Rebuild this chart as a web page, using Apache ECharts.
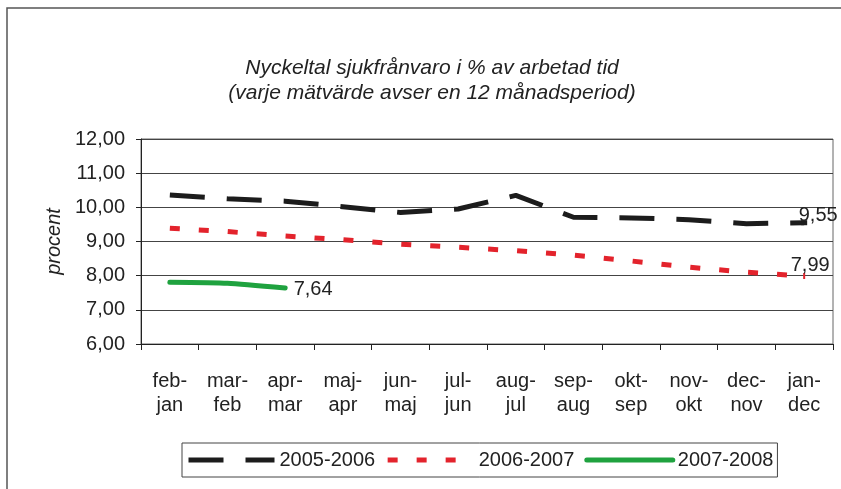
<!DOCTYPE html>
<html>
<head>
<meta charset="utf-8">
<script src="https://cdn.jsdelivr.net/npm/echarts@6/dist/echarts.min.js"></script>
<style>
  html, body { margin: 0; padding: 0; background: #fff; }
  #chart { width: 841px; height: 489px; }
</style>
</head>
<body>
<div id="chart"></div>
<script>
// periods (12-month rolling)
const categories = [
  "feb-\njan", "mar-\nfeb", "apr-\nmar", "maj-\napr", "jun-\nmaj", "jul-\njun",
  "aug-\njul", "sep-\naug", "okt-\nsep", "nov-\nokt", "dec-\nnov", "jan-\ndec"
];
const seriesNames = ["2005-2006", "2006-2007", "2007-2008"];
const values0506 = [10.36, 10.25, 10.18, 10.02, 9.85, 9.95, 10.35, 9.71, 9.69, 9.64, 9.52, 9.55];
const values0607 = [9.39, 9.29, 9.16, 9.05, 8.92, 8.83, 8.73, 8.60, 8.43, 8.25, 8.10, 7.99];
const values0708 = [7.81, 7.78, 7.64];
const yTicks = [6, 7, 8, 9, 10, 11, 12];

const comma = (v) => v.toFixed(2).replace(".", ",");
const font = "Liberation Sans, Arial, sans-serif";

// only the last point of each series gets a marker + value label
function withLastLabel(arr, marker, label) {
  return arr.map((v, i) =>
    i === arr.length - 1
      ? Object.assign({ value: v, label: Object.assign({ show: true }, label) }, marker)
      : v
  );
}

const chart = echarts.init(document.getElementById("chart"));
chart.setOption({
  animation: false,
  backgroundColor: "#fff",
  textStyle: { fontFamily: font },
  graphic: [
    {
      type: "rect",
      shape: { x: 7, y: 8, width: 900, height: 600 },
      style: { fill: "none", stroke: "#555", lineWidth: 1.5 },
      silent: true
    }
  ],
  title: {
    text: "Nyckeltal sjukfrånvaro i % av arbetad tid\n(varje mätvärde avser en 12 månadsperiod)",
    left: 427,
    top: 51,
    textAlign: "center",
    textStyle: {
      fontFamily: font,
      fontSize: 21,
      fontStyle: "italic",
      fontWeight: "normal",
      color: "#222",
      lineHeight: 25
    }
  },
  legend: {
    data: seriesNames,
    left: 182,
    top: 443,
    padding: [5, 4],
    itemWidth: 86,
    itemHeight: 10,
    itemGap: 10,
    borderColor: "#444",
    borderWidth: 1,
    itemStyle: { opacity: 0 },
    lineStyle: { width: 5 },
    textStyle: { fontFamily: font, fontSize: 20, color: "#222", lineHeight: 24 }
  },
  grid: {
    left: 141,
    right: 8,
    top: 139,
    bottom: 145,
    show: true,
    borderColor: "#666",
    borderWidth: 1
  },
  xAxis: {
    type: "category",
    data: categories,
    boundaryGap: true,
    axisLine: { lineStyle: { color: "#222", width: 1 } },
    axisTick: { show: true, length: 6, lineStyle: { color: "#222" } },
    axisLabel: {
      margin: 25,
      fontFamily: font,
      fontSize: 20,
      lineHeight: 24,
      color: "#222"
    }
  },
  yAxis: {
    type: "value",
    min: yTicks[0],
    max: yTicks[yTicks.length - 1],
    interval: 1,
    name: "procent",
    nameLocation: "middle",
    nameGap: 74,
    nameTextStyle: { fontFamily: font, fontSize: 20, fontStyle: "italic", color: "#222" },
    axisLine: { show: true, lineStyle: { color: "#222", width: 1 } },
    axisTick: { show: true, length: 5, lineStyle: { color: "#222" } },
    splitLine: { lineStyle: { color: "#444", width: 1 } },
    axisLabel: {
      margin: 16,
      fontFamily: font,
      fontSize: 20,
      color: "#222",
      formatter: (v) => comma(v)
    }
  },
  series: [
    {
      name: seriesNames[0],
      type: "line",
      data: withLastLabel(values0506, { symbol: "rect", symbolSize: [6, 5] }, { position: "top", offset: [14, 10] }),
      symbol: "none",
      showSymbol: true,
      lineStyle: { color: "#1c1c1c", width: 5, type: [35, 22], cap: "butt" },
      itemStyle: { color: "#1c1c1c" },
      label: {
        fontFamily: font,
        fontSize: 20,
        color: "#222",
        formatter: (p) => comma(p.value)
      },
      z: 3
    },
    {
      name: seriesNames[1],
      type: "line",
      data: withLastLabel(values0607, { symbol: "rect", symbolSize: [2, 6] }, { position: "top", offset: [6, 7] }),
      symbol: "none",
      showSymbol: true,
      lineStyle: { color: "#e3232c", width: 5, type: [10, 19], cap: "butt" },
      itemStyle: { color: "#e3232c" },
      label: {
        fontFamily: font,
        fontSize: 20,
        color: "#222",
        formatter: (p) => comma(p.value)
      },
      z: 2
    },
    {
      name: seriesNames[2],
      type: "line",
      data: withLastLabel(values0708, { symbol: "circle", symbolSize: 1 }, { position: "right", distance: 8, offset: [0, 2] }),
      symbol: "none",
      showSymbol: true,
      smooth: 0.2,
      lineStyle: { color: "#1fa23f", width: 5, cap: "round" },
      itemStyle: { color: "#1fa23f" },
      label: {
        fontFamily: font,
        fontSize: 20,
        color: "#222",
        formatter: (p) => comma(p.value)
      },
      z: 2
    }
  ]
});
</script>
</body>
</html>
